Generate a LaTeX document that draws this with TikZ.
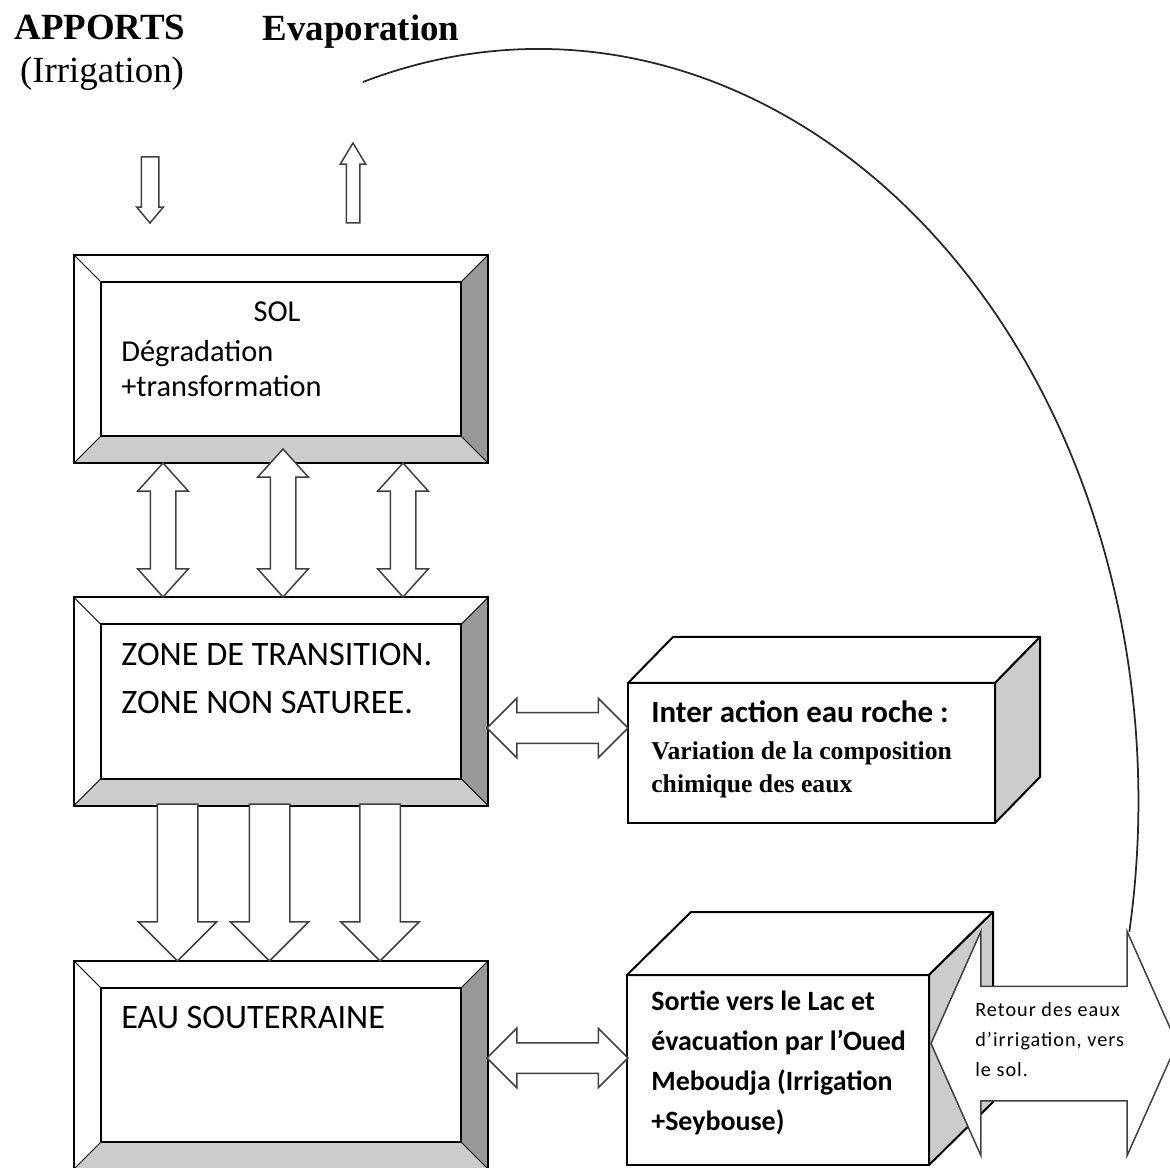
\documentclass[tikz,border=0pt]{standalone}
\usepackage{fontspec}
\setmainfont{Carlito}
\newfontfamily\romanfont{Liberation Serif}
\newfontfamily\spacedfont{Carlito}[LetterSpace=5]
\usetikzlibrary{shapes.arrows,calc}

\definecolor{bevelside}{gray}{0.6}
\definecolor{bevelbase}{gray}{0.8}
\definecolor{faceside}{gray}{0.8}
\definecolor{arrowline}{gray}{0.25}

\tikzset{
  layerbox/.style={draw, line width=0.4mm, fill=white, minimum width=82.8mm, minimum height=41.6mm, inner sep=0pt, outer sep=0pt},
  cubeface/.style={draw, line width=0.4mm, fill=white, inner sep=0pt, outer sep=0pt},
  cubeedge/.style={line width=0.4mm, line join=round},
  blockarrow/.style={draw=arrowline, line width=0.3mm, fill=white, inner xsep=0pt, outer sep=0pt},
  inflow/.style={blockarrow, single arrow, anchor=tail, rotate=-90, minimum height=13.2mm, minimum width=5mm,
    inner ysep=1.6mm, single arrow head extend=0.9mm, single arrow tip angle=80},
  outflow/.style={blockarrow, single arrow, anchor=tail, rotate=90, minimum height=16mm, minimum width=4.8mm,
    inner ysep=1.2mm, single arrow head extend=1.2mm, single arrow tip angle=62},
  swapflow/.style={blockarrow, double arrow, rotate=90, minimum width=9.8mm,
    inner ysep=2.4mm, double arrow head extend=2.5mm, double arrow tip angle=84},
  dropflow/.style={blockarrow, single arrow, anchor=tail, rotate=-90, minimum height=31.4mm, minimum width=15.4mm,
    inner ysep=3.9mm, single arrow head extend=3.8mm, single arrow tip angle=90},
  sideflow/.style={blockarrow, double arrow, minimum height=28.2mm, minimum width=11.6mm,
    inner ysep=2.9mm, double arrow head extend=2.9mm, double arrow tip angle=90},
  backflow/.style={blockarrow, double arrow, minimum height=49.2mm, minimum width=44.6mm,
    inner ysep=11.3mm, double arrow head extend=11mm, double arrow tip angle=132},
  returnline/.style={draw=black!85, line width=0.35mm},
  heading/.style={inner sep=0pt, font=\romanfont\bfseries\fontsize{21}{25}\selectfont},
  romantext/.style={inner sep=0pt, font=\romanfont\fontsize{21}{25}\selectfont},
  soltext/.style={inner sep=0pt, font=\fontsize{17.3}{19.9}\selectfont},
  zonetext/.style={inner sep=0pt, font=\fontsize{19.5}{27.3}\selectfont},
  cubetext/.style={inner sep=0pt, font=\bfseries\fontsize{15.9}{22.8}\selectfont},
  chemtext/.style={inner sep=0pt, font=\romanfont\bfseries\fontsize{14.6}{18.8}\selectfont},
  smalltext/.style={inner sep=0pt, font=\spacedfont\fontsize{11.5}{17}\selectfont}
}

% raised frame round a layer box
\newcommand{\bevelframe}[1]{%
  \fill[bevelside] (#1.north east) -- (#1.south east) -- ([shift={(-27,-27)}]#1.south east) -- ([shift={(-27,27)}]#1.north east) -- cycle;
  \fill[bevelbase] (#1.south west) -- (#1.south east) -- ([shift={(-27,-27)}]#1.south east) -- ([shift={(27,-27)}]#1.south west) -- cycle;
  \draw[line width=0.2mm] (#1.north west) -- ++(27,27) (#1.north east) -- ++(-27,27)
    (#1.south west) -- ++(27,-27) (#1.south east) -- ++(-27,-27);
  \draw[line width=0.4mm] ([shift={(27,27)}]#1.north west) rectangle ([shift={(-27,-27)}]#1.south east);
  \draw[line width=0.4mm] (#1.north west) rectangle (#1.south east);
}

% top and side faces of a box: node, depth x, depth y
\newcommand{\cubefaces}[3]{%
  \filldraw[cubeedge, fill=white] (#1.north west) -- ([shift={(#2,#3)}]#1.north west)
    -- ([shift={(#2,#3)}]#1.north east) -- (#1.north east) -- cycle;
  \filldraw[cubeedge, fill=faceside] (#1.north east) -- ([shift={(#2,#3)}]#1.north east)
    -- ([shift={(#2,#3)}]#1.south east) -- (#1.south east) -- cycle;
}

\begin{document}
\begin{tikzpicture}[x=0.2mm, y=-0.2mm]
  \useasboundingbox (0,0) rectangle (1170,1168);

  % inputs and outputs at the surface
  \node[heading, anchor=base] (apports) at (100,40) {APPORTS};
  \node[romantext, anchor=base] (irrigation) at (102,83) {(Irrigation)};
  \node[heading, anchor=base] (evaporation) at (361,41) {Evaporation};
  \node[inflow] (apportsflow) at (150,157) {};
  \node[outflow] (evapflow) at (353,223) {};

  % the three layers
  \node[layerbox] (sol) at (281,359) {};
  \bevelframe{sol}
  \node[layerbox] (zone) at (281,701.5) {};
  \bevelframe{zone}
  \node[layerbox] (eau) at (281,1065) {};
  \bevelframe{eau}

  % exchanges between layers
  \node[swapflow, minimum height=26.8mm] (swapa) at (163,530) {};
  \node[swapflow, minimum height=29.6mm] (swapb) at (283,523) {};
  \node[swapflow, minimum height=26.8mm] (swapc) at (403,530) {};
  \node[dropflow] (dropa) at (177.5,804) {};
  \node[dropflow] (dropb) at (269.5,804) {};
  \node[dropflow] (dropc) at (380,804) {};

  % water-rock interaction
  \node[cubeface, minimum width=73.4mm, minimum height=28mm] (inter) at (811.5,753) {};
  \cubefaces{inter}{45}{-46}
  \node[sideflow] (zoneinter) at (557.5,728) {};

  % outlet
  \node[cubeface, minimum width=60.4mm, minimum height=38mm] (sortie) at (778,1070) {};
  \cubefaces{sortie}{64}{-63}
  \node[sideflow] (eausortie) at (557.5,1058) {};
  \node[backflow] (retour) at (1054,1043.5) {};

  % irrigation water going back up to the soil
  \coordinate (evapcurve) at (363,82);
  \draw[returnline] (evapcurve) arc[start angle=107, end angle=-10, x radius=120mm, y radius=150.4mm];

  % texts
  \node[soltext, anchor=base] (soltitle) at (277,322) {SOL};
  \node[soltext, anchor=north west, align=left] (solnote) at (121,340) {Dégradation\\+transformation};
  \node[zonetext, anchor=north west, align=left] (zonenote) at (121,643) {ZONE DE TRANSITION.\\ZONE NON SATUREE.};
  \node[zonetext, anchor=base west] (eaunote) at (121,1028) {EAU SOUTERRAINE};
  \node[cubetext, anchor=base west, font=\bfseries\fontsize{17.6}{22.8}\selectfont] (intertitle) at (651,723) {Inter action eau roche :};
  \node[chemtext, anchor=north west, align=left] (internote) at (651,741) {Variation de la composition\\chimique des eaux};
  \node[cubetext, anchor=north west, align=left] (sortienote) at (651,990) {Sortie vers le Lac et\\évacuation par l’Oued\\Meboudja (Irrigation\\+Seybouse)};
  \node[smalltext, anchor=north west, align=left] (retournote) at (975,1002) {Retour des eaux\\d’irrigation, vers\\le sol.};
\end{tikzpicture}
\end{document}
